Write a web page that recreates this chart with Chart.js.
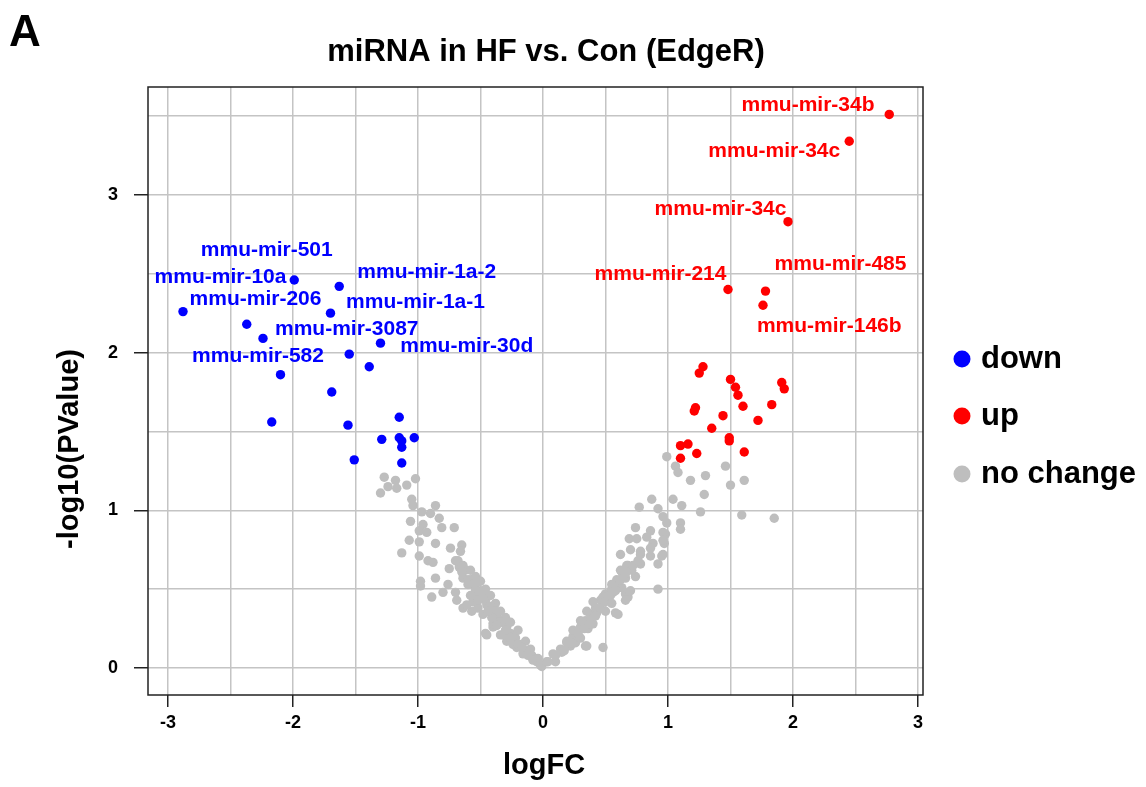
<!DOCTYPE html>
<html>
<head>
<meta charset="utf-8">
<title>miRNA in HF vs. Con (EdgeR)</title>
<script src="https://cdn.jsdelivr.net/npm/chart.js@4.4.1/dist/chart.umd.min.js"></script>
<style>
    html, body { margin: 0; padding: 0; background: #fff; }
    #wrap { width: 1146px; height: 787px; }
</style>
</head>
<body>
<div id="wrap"><canvas id="volcano" width="1146" height="787"></canvas></div>
<script>
// 数据
const downX = [-1.99, -1.63, -2.88, -1.70, -2.37, -2.24, -1.30, -1.55, -1.39, -2.10, -1.69,
    -2.17, -1.56, -1.15, -1.29, -1.15, -1.13, -1.13, -1.03, -1.51, -1.13];
const downY = [2.46, 2.42, 2.26, 2.25, 2.18, 2.09, 2.06, 1.99, 1.91, 1.86, 1.75,
    1.56, 1.54, 1.59, 1.45, 1.46, 1.44, 1.40, 1.46, 1.32, 1.30];

const upX = [2.77, 2.45, 1.96, 1.48, 1.78, 1.76, 1.28, 1.25, 1.50, 1.54, 1.56, 1.91, 1.93, 1.22,
    1.21, 1.44, 1.60, 1.83, 1.72, 1.35, 1.49, 1.49, 1.10, 1.16, 1.23, 1.10, 1.61];
const upY = [3.51, 3.34, 2.83, 2.40, 2.39, 2.30, 1.91, 1.87, 1.83, 1.78, 1.73, 1.81, 1.77, 1.65,
    1.63, 1.60, 1.66, 1.67, 1.57, 1.52, 1.46, 1.44, 1.41, 1.42, 1.36, 1.33, 1.37];

const noChangeX = [
    -1.27, -1.30, -1.24, -1.18, -1.17, -1.09, -1.02, -1.05, -1.04, -0.86, -0.97, -0.90, -1.06, -0.96,
    -0.83, -0.81, -0.71, -0.99, -0.93, -1.07, -0.99, -0.86, -0.65, -0.74, -0.66, -1.13, -0.99, -0.92,
    -0.88, -0.70, -0.75, -0.67, -0.62, -0.86, -0.98, -0.98, -0.64, -0.60, -0.56, -0.80, -0.89, -0.70,
    -0.69, -0.64, -0.57, -0.61, -0.56, -0.53, -0.46, -0.45, -0.46, -0.50, -0.50, -0.45, -0.41, -0.37,
    -0.33, -0.29, -0.26, -0.22, -0.18, -0.13, -0.09, -0.05, -0.01, -0.40, -0.34, -0.29, -0.21, -0.16,
    -0.58, -0.54, -0.46, -0.37, -0.33, -0.24, -0.08, -0.52, -0.48, -0.40, -0.32, -0.24, -0.58, -0.68,
    -0.64, -0.54, -0.50, -0.46, -0.42, -0.38, -0.34, -0.30, -0.26, -0.20, -0.14, -0.10, -0.04,
    -0.65, -0.60, -0.54, -0.48, -0.42, -0.38, -0.41, -0.34, -0.30, -0.26, -0.20, -0.17, -0.12, -0.08,
    -0.52, -0.44, -0.37, -0.58, -0.76,
    -0.02, 0.03, 0.08, 0.14, 0.19, 0.24, 0.30, 0.34, 0.38, 0.42, 0.46, 0.50, 0.55, 0.59, 0.63, 0.68,
    0.66, 0.36, 0.35, 0.48, 0.58, 0.40, 0.26, 0.10, 0.99, 1.06, 1.08, 1.18, 1.30, 1.46, 1.50, 1.61,
    1.29, 1.04, 1.11, 0.87, 0.77, 0.92, 0.96, 1.26, 1.59, 1.85, 0.99, 1.10, 1.10, 0.74, 0.86, 0.98,
    0.69, 0.75, 0.97, 0.88, 0.70, 0.62, 0.78, 0.86, 0.96, 0.92, 0.67, 0.62, 0.74, 0.55, 0.63, 0.68,
    0.92, 0.48, 0.40, 0.35, 0.60, 0.30, 0.24, 0.19, 0.34, 0.96, 0.83, 0.96, 0.78, 0.86, 0.95, 0.52,
    0.56, 0.60, 0.66, 0.71, 0.78, 0.43, 0.38, 0.22, 0.15, 0.30, 0.66,
    0.04, 0.10, 0.17, 0.22, 0.28, 0.33, 0.38, 0.42, 0.46, 0.50, 0.54, 0.58, 0.62, 0.66, 0.72, 0.76,
    0.55, 0.50, 0.70];
const noChangeY = [
    1.21, 1.11, 1.15, 1.19, 1.14, 1.16, 1.20, 1.07, 1.03, 1.03, 0.99, 0.98, 0.93, 0.91,
    0.95, 0.89, 0.89, 0.87, 0.86, 0.81, 0.80, 0.79, 0.78, 0.76, 0.74, 0.73, 0.71, 0.68,
    0.67, 0.68, 0.63, 0.64, 0.62, 0.57, 0.55, 0.52, 0.57, 0.56, 0.53, 0.48, 0.45, 0.48,
    0.43, 0.38, 0.36, 0.40, 0.42, 0.45, 0.45, 0.21, 0.22, 0.49, 0.47, 0.40, 0.36, 0.32,
    0.29, 0.26, 0.22, 0.19, 0.15, 0.11, 0.08, 0.04, 0.01, 0.26, 0.21, 0.17, 0.13, 0.09,
    0.56, 0.53, 0.43, 0.34, 0.30, 0.20, 0.06, 0.38, 0.34, 0.28, 0.21, 0.15, 0.62, 0.68,
    0.65, 0.58, 0.55, 0.50, 0.46, 0.41, 0.36, 0.32, 0.29, 0.24, 0.17, 0.12, 0.06,
    0.61, 0.53, 0.49, 0.44, 0.39, 0.36, 0.32, 0.29, 0.24, 0.19, 0.15, 0.13, 0.08, 0.05,
    0.43, 0.36, 0.27, 0.46, 0.53,
    0.02, 0.04, 0.09, 0.12, 0.16, 0.20, 0.26, 0.30, 0.34, 0.38, 0.43, 0.47, 0.50, 0.56, 0.61, 0.65,
    0.47, 0.25, 0.14, 0.13, 0.35, 0.28, 0.16, 0.04, 1.34, 1.28, 1.24, 1.19, 1.22, 1.28, 1.16, 1.19,
    1.10, 1.07, 1.03, 1.07, 1.02, 1.01, 0.96, 0.99, 0.97, 0.95, 0.92, 0.92, 0.88, 0.89, 0.87, 0.85,
    0.82, 0.82, 0.79, 0.79, 0.75, 0.72, 0.72, 0.71, 0.72, 0.66, 0.65, 0.62, 0.58, 0.53, 0.51, 0.45,
    0.50, 0.45, 0.42, 0.36, 0.34, 0.30, 0.24, 0.17, 0.14, 0.86, 0.83, 0.81, 0.74, 0.76, 0.71, 0.44,
    0.48, 0.52, 0.57, 0.62, 0.66, 0.35, 0.30, 0.14, 0.10, 0.19, 0.43,
    0.04, 0.08, 0.11, 0.16, 0.22, 0.25, 0.28, 0.33, 0.38, 0.42, 0.46, 0.49, 0.56, 0.60, 0.65, 0.68,
    0.41, 0.36, 0.49];

// 标注的 miRNA 名称 (坐标为数据单位)
const labelText = ['mmu-mir-501', 'mmu-mir-10a', 'mmu-mir-1a-2', 'mmu-mir-206', 'mmu-mir-1a-1',
    'mmu-mir-3087', 'mmu-mir-30d', 'mmu-mir-582', 'mmu-mir-34b', 'mmu-mir-34c', 'mmu-mir-34c',
    'mmu-mir-485', 'mmu-mir-214', 'mmu-mir-146b'];
const labelX = [-2.21, -2.58, -0.93, -2.30, -1.02, -1.57, -0.61, -2.28, 2.12, 1.85, 1.42, 2.38, 0.94, 2.29];
const labelY = [2.65, 2.48, 2.51, 2.34, 2.32, 2.15, 2.04, 1.98, 3.57, 3.28, 2.91, 2.56, 2.50, 2.17];
const labelGroup = ['down', 'down', 'down', 'down', 'down', 'down', 'down', 'down',
    'up', 'up', 'up', 'up', 'up', 'up'];

const xTicks = [-3, -2.5, -2, -1.5, -1, -0.5, 0, 0.5, 1, 1.5, 2, 2.5, 3];
const yTicks = [0, 0.5, 1, 1.5, 2, 2.5, 3, 3.5];

const legendNames = ['down', 'up', 'no change'];

const FONT = '"Liberation Sans", Arial, Helvetica, sans-serif';
const COLORS = { down: '#0000ff', up: '#ff0000', 'no change': '#bebebe' };

function toPoints(xs, ys) {
    return xs.map((x, i) => ({ x: x, y: ys[i] }));
}

// 标注文字、标题和图例
const annotatePlugin = {
    id: 'annotate',
    afterDatasetsDraw(chart) {
        const ctx = chart.ctx;
        const xs = chart.scales.x;
        const ys = chart.scales.y;
        ctx.save();
        ctx.font = 'bold 21px ' + FONT;
        ctx.textAlign = 'center';
        ctx.textBaseline = 'middle';
        labelText.forEach((t, i) => {
            ctx.fillStyle = COLORS[labelGroup[i]];
            ctx.fillText(t, xs.getPixelForValue(labelX[i]), ys.getPixelForValue(labelY[i]));
        });
        ctx.restore();
    },
    afterDraw(chart) {
        const ctx = chart.ctx;
        const area = chart.chartArea;
        ctx.save();
        // 边框
        ctx.strokeStyle = '#222';
        ctx.lineWidth = 1.5;
        ctx.strokeRect(area.left, area.top, area.right - area.left, area.bottom - area.top);

        ctx.fillStyle = '#000';
        ctx.font = 'bold 44px ' + FONT;
        ctx.textAlign = 'left';
        ctx.textBaseline = 'alphabetic';
        ctx.fillText('A', 9, 46);

        ctx.font = 'bold 31px ' + FONT;
        ctx.textAlign = 'center';
        ctx.textBaseline = 'middle';
        ctx.fillText('miRNA in HF vs. Con (EdgeR)', 546, 52);

        ctx.font = 'bold 29px ' + FONT;
        ctx.fillText('logFC', 544, 766);

        ctx.save();
        ctx.translate(70, 449);
        ctx.rotate(-Math.PI / 2);
        ctx.fillText('-log10(PValue)', 0, 0);
        ctx.restore();

        // 图例
        const legendY = [359, 416, 474];
        ctx.font = 'bold 31px ' + FONT;
        ctx.textAlign = 'left';
        ctx.textBaseline = 'alphabetic';
        legendNames.forEach((name, i) => {
            ctx.fillStyle = COLORS[name];
            ctx.beginPath();
            ctx.arc(962, legendY[i], 8.5, 0, Math.PI * 2);
            ctx.fill();
            ctx.fillStyle = '#000';
            ctx.fillText(name, 981, legendY[i] + 9);
        });
        ctx.restore();
    }
};

function isMajor(v) {
    return Math.abs(v - Math.round(v)) < 1e-9;
}

const canvas = document.getElementById('volcano');
const chart = new Chart(canvas, {
    type: 'scatter',
    data: {
        datasets: [{
            label: 'no change',
            data: toPoints(noChangeX, noChangeY),
            backgroundColor: COLORS['no change'],
            pointRadius: 4.7,
            borderWidth: 0
        }, {
            label: 'down',
            data: toPoints(downX, downY),
            backgroundColor: COLORS.down,
            pointRadius: 4.7,
            borderWidth: 0
        }, {
            label: 'up',
            data: toPoints(upX, upY),
            backgroundColor: COLORS.up,
            pointRadius: 4.7,
            borderWidth: 0
        }]
    },
    options: {
        responsive: false,
        animation: false,
        devicePixelRatio: 1,
        layout: {
            padding: { top: 87, right: 223, left: 0, bottom: 0 }
        },
        plugins: {
            legend: { display: false },
            tooltip: { enabled: false }
        },
        scales: {
            x: {
                type: 'linear',
                min: -3.16,
                max: 3.04,
                afterBuildTicks: scale => { scale.ticks = xTicks.map(v => ({ value: v })); },
                afterFit: scale => { scale.height = 92; },
                border: { display: false },
                grid: {
                    color: '#c4c4c4',
                    lineWidth: 1.5,
                    tickLength: 12,
                    tickColor: c => isMajor(c.tick.value) ? '#222' : 'rgba(0,0,0,0)',
                    tickWidth: 1.5
                },
                ticks: {
                    autoSkip: false,
                    maxRotation: 0,
                    padding: 5,
                    color: '#000',
                    font: { family: FONT, size: 18, weight: 'bold' },
                    callback: v => isMajor(v) ? String(Math.round(v)) : ''
                }
            },
            y: {
                type: 'linear',
                min: -0.171,
                max: 3.684,
                afterBuildTicks: scale => { scale.ticks = yTicks.map(v => ({ value: v })); },
                afterFit: scale => { scale.width = 148; },
                border: { display: false },
                grid: {
                    color: '#c4c4c4',
                    lineWidth: 1.5,
                    tickLength: 14,
                    tickColor: c => isMajor(c.tick.value) ? '#222' : 'rgba(0,0,0,0)',
                    tickWidth: 1.5
                },
                ticks: {
                    autoSkip: false,
                    padding: 16,
                    color: '#000',
                    font: { family: FONT, size: 18, weight: 'bold' },
                    callback: v => isMajor(v) ? String(Math.round(v)) : ''
                }
            }
        }
    },
    plugins: [annotatePlugin]
});
</script>
</body>
</html>
